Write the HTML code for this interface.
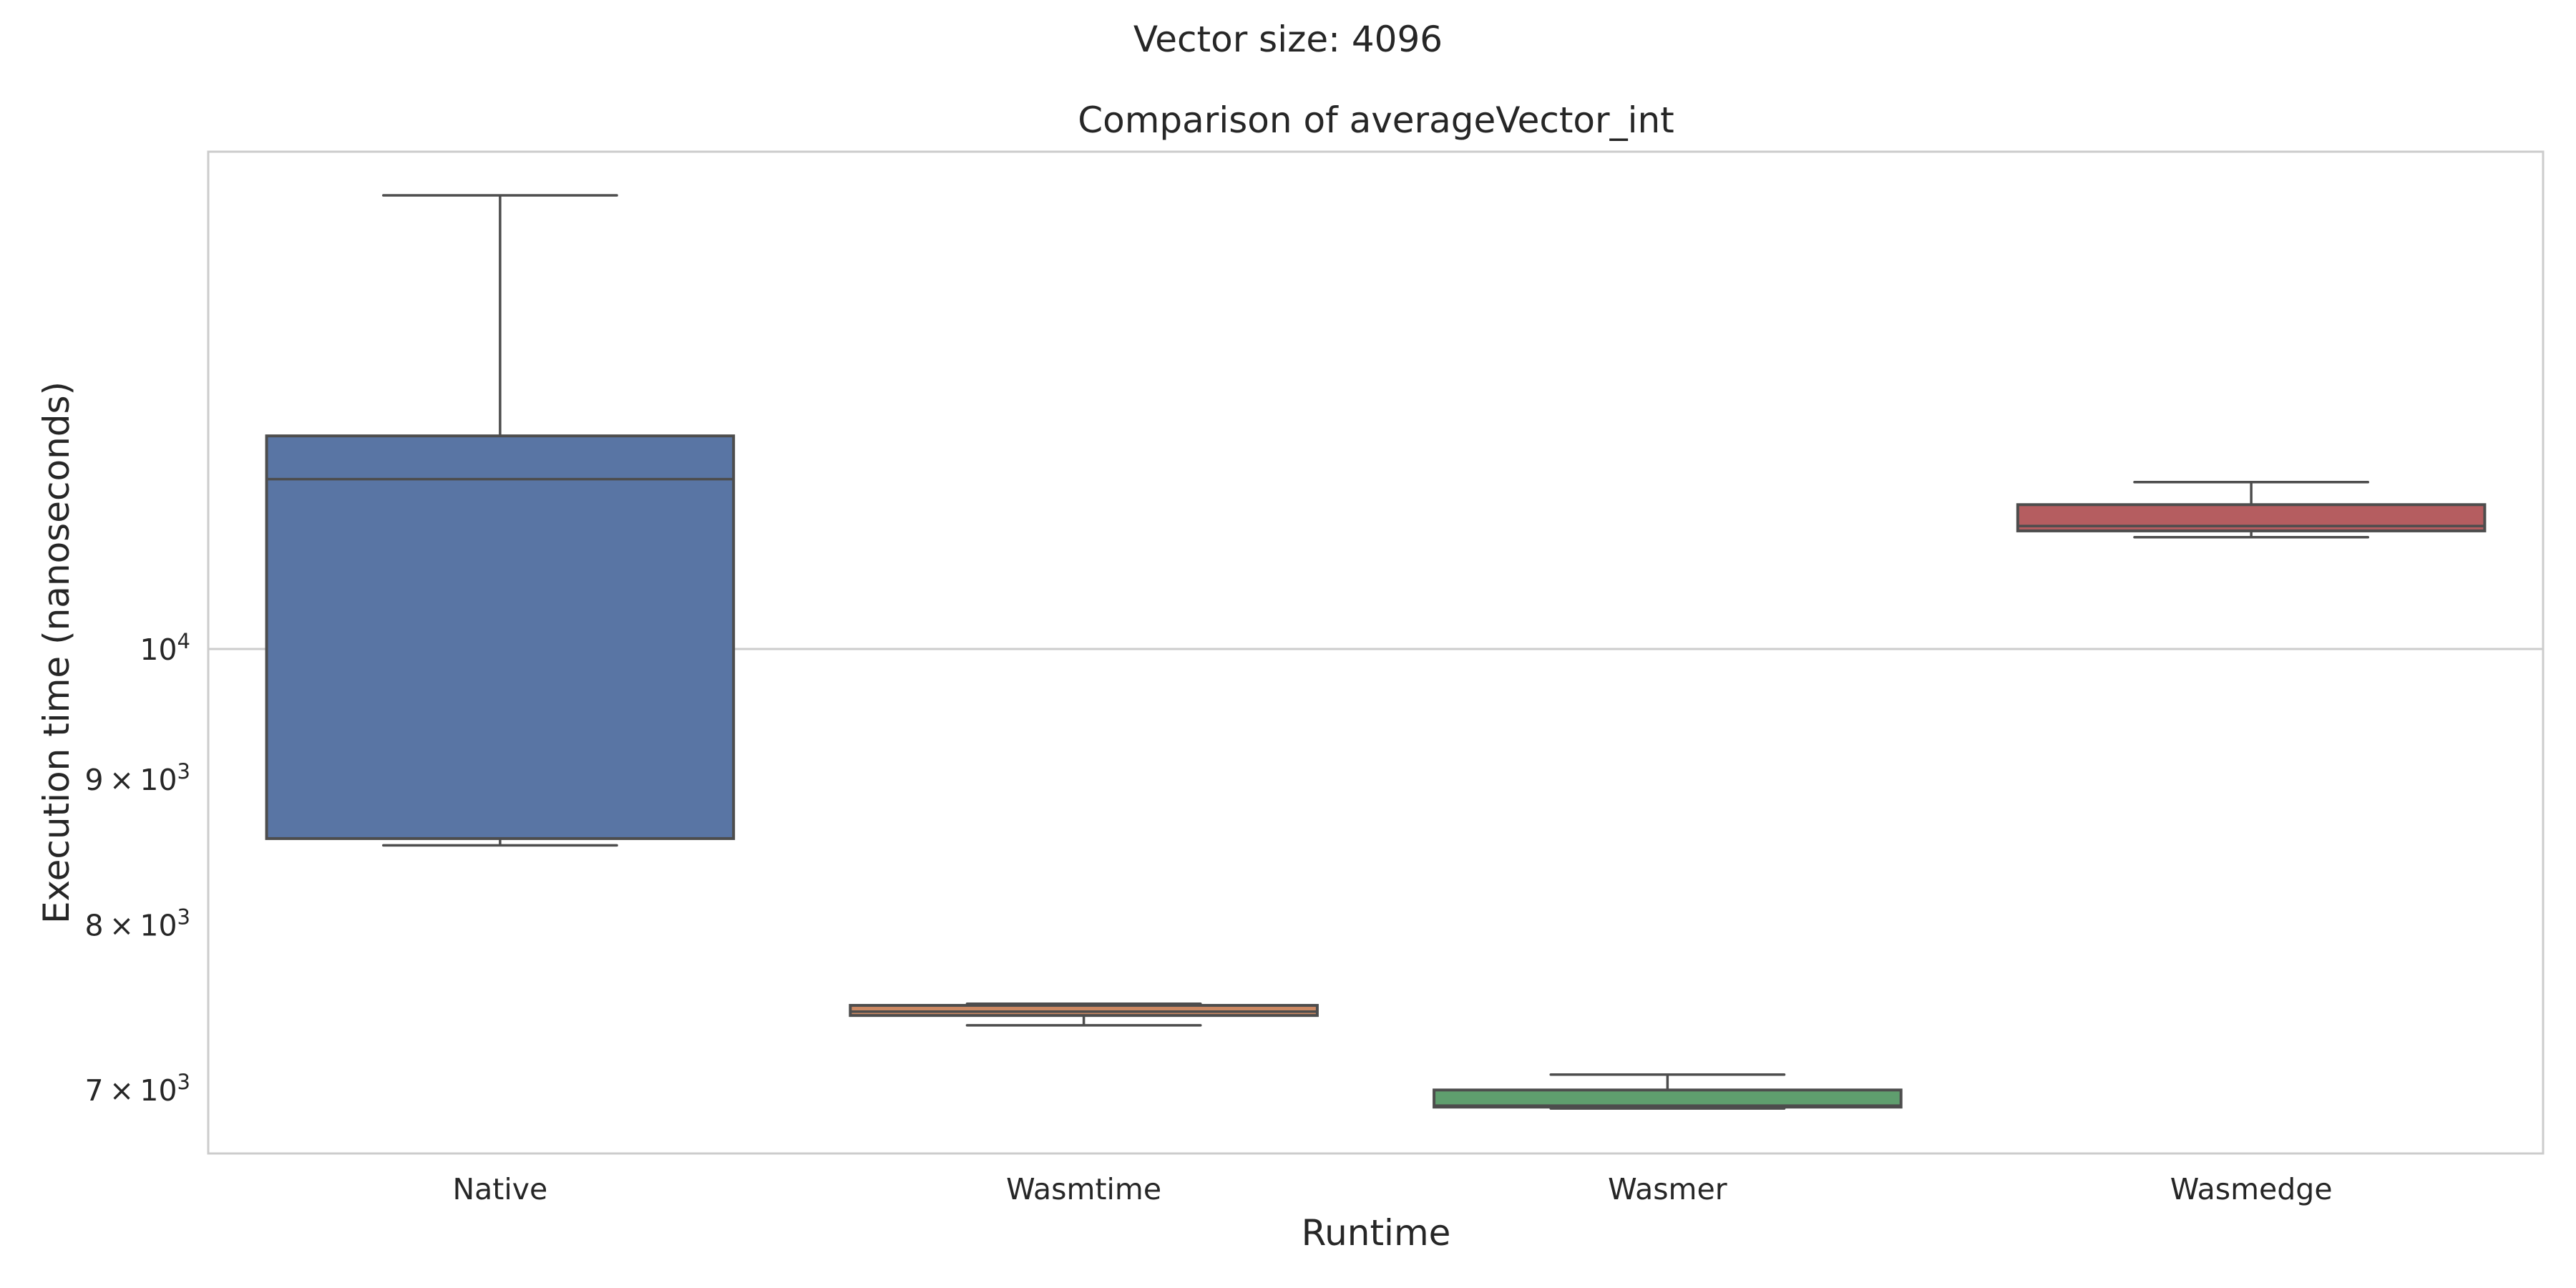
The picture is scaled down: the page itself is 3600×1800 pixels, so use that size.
<!DOCTYPE html>
<html><head><meta charset="utf-8"><style>
html,body{margin:0;padding:0;background:#fff}
svg{display:block;font-family:"DejaVu Sans","Liberation Sans",sans-serif}
</style></head><body>
<svg id="chart" width="3600" height="1800" viewBox="0 0 3600 1800" xmlns="http://www.w3.org/2000/svg">
<rect width="3600" height="1800" fill="#fff"/>
<text x="1800" y="72" font-size="50" text-anchor="middle" fill="#262626">Vector size: 4096</text>
<text x="1923" y="185" font-size="50" text-anchor="middle" fill="#262626">Comparison of averageVector_int</text>
<g id="grid"></g>
<g id="boxes"></g>
<rect x="291" y="212" width="3263" height="1400" fill="none" stroke="#cccccc" stroke-width="3"/>
<g id="yticks"></g>
<g id="xticks"></g>
<text x="1923" y="1740" font-size="50" text-anchor="middle" fill="#262626">Runtime</text>
<text transform="translate(96,912) rotate(-90)" font-size="50" text-anchor="middle" fill="#262626">Execution time (nanoseconds)</text>
</svg>
<script>
const categories = ["Native","Wasmtime","Wasmer","Wasmedge"];
const whiskerLow = [8531, 7375, 6895, 10947];
const q1 = [8578, 7434, 6903, 11003];
const medians = [11473, 7457, 6911, 11046];
const q3 = [11882, 7495, 6999, 11239];
const whiskerHigh = [14435, 7505, 7087, 11446];
const colors = ["#5975a4","#cc8963","#5f9e6e","#b55d60"];
const yTickValues = [7000, 8000, 9000, 10000];
const yTickMant = ["7","8","9",""];
const yTickExp = ["3","3","3","4"];

const NS = "http://www.w3.org/2000/svg";
const plotL = 291, plotR = 3554, plotT = 212, plotB = 1612;
const pxPerDecade = 3977, yRef = 907;
function y(v){ return yRef - pxPerDecade * (Math.log10(v) - 4); }
const band = (plotR - plotL) / categories.length;
function xc(i){ return plotL + band * (i + 0.5); }
function mk(tag, attrs, parent){
  const e = document.createElementNS(NS, tag);
  for (const k in attrs) e.setAttribute(k, attrs[k]);
  parent.appendChild(e); return e;
}
const grid = document.getElementById('grid');
const g = mk('line', {x1:plotL, x2:plotR, y1:y(10000), y2:y(10000), stroke:'#cccccc', 'stroke-width':3}, grid);



const yt = document.getElementById('yticks');
yTickValues.forEach((v, i) => {
  const t = mk('text', {x:266, y:y(v)+15, 'font-size':41, 'text-anchor':'end', fill:'#262626'}, yt);
  
  
  const base = yTickMant[i] ? yTickMant[i] + "\u2009\u00d7\u200910" : "10";
  t.appendChild(document.createTextNode(base));
  const s = document.createElementNS(NS, 'tspan');
  s.setAttribute('dy', '-16'); s.setAttribute('font-size', '29');
  s.textContent = yTickExp[i];
  t.appendChild(s);
});

const xt = document.getElementById('xticks');
categories.forEach((c, i) => {
  const t = mk('text', {x:xc(i), y:1676, 'font-size':41, 'text-anchor':'middle', fill:'#262626'}, xt);
  
  
  t.textContent = c;
});

const boxes = document.getElementById('boxes');
const lc = '#4d4d4d', lw = 3.5;
categories.forEach((c, i) => {
  const cx = xc(i), bw = band * 0.8, cw = bw * 0.5;
  const grp = mk('g', {}, boxes);
  
  
  mk('line', {x1:cx, x2:cx, y1:y(whiskerHigh[i]), y2:y(q3[i]), stroke:lc, 'stroke-width':lw}, grp);
  mk('line', {x1:cx, x2:cx, y1:y(q1[i]), y2:y(whiskerLow[i]), stroke:lc, 'stroke-width':lw}, grp);
  mk('line', {x1:cx-cw/2, x2:cx+cw/2, y1:y(whiskerHigh[i]), y2:y(whiskerHigh[i]), stroke:lc, 'stroke-width':lw, 'stroke-linecap':'round'}, grp);
  mk('line', {x1:cx-cw/2, x2:cx+cw/2, y1:y(whiskerLow[i]), y2:y(whiskerLow[i]), stroke:lc, 'stroke-width':lw, 'stroke-linecap':'round'}, grp);
  mk('rect', {x:cx-bw/2, y:y(q3[i]), width:bw, height:Math.max(0.5, y(q1[i]) - y(q3[i])), fill:colors[i], stroke:lc, 'stroke-width':4}, grp);
  mk('line', {x1:cx-bw/2, x2:cx+bw/2, y1:y(medians[i]), y2:y(medians[i]), stroke:lc, 'stroke-width':lw}, grp);
});
</script>
</body></html>
